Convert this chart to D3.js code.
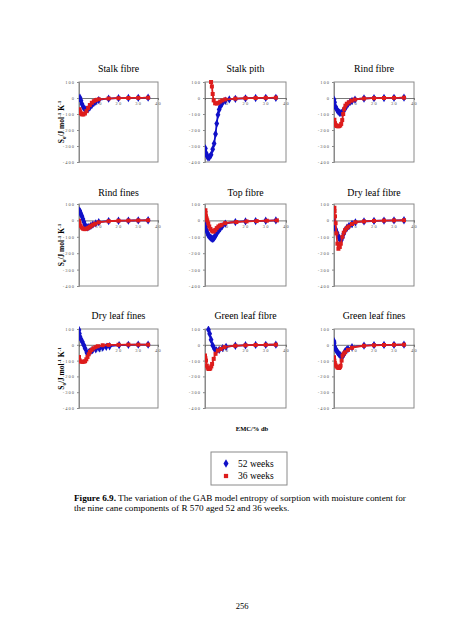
<!DOCTYPE html>
<html><head><meta charset="utf-8">
<script src="https://cdn.jsdelivr.net/npm/d3@7"></script>
<style>html,body{margin:0;padding:0;background:#fff;}svg{display:block;}</style>
</head><body>
<script>
const panelTitles = ["Stalk fibre","Stalk pith","Rind fibre","Rind fines","Top fibre","Dry leaf fibre","Dry leaf fines","Green leaf fibre","Green leaf fines"];
const seriesNames = ["52 weeks","36 weeks"];
const yTicks = [100,0,-100,-200,-300,-400];
const xTicks = [10,20,30,40];

// 52 weeks (blue) EMC and entropy per panel
const emc52 = [
 [0.5,1,1.5,2.2,3,3.8,4.6,5.5,6.5,7.5,8.5,10,15,20,25,30,35],
 [0.2,0.6,1,1.5,2.2,3,3.8,4.5,5.2,5.8,6.4,7,7.6,8.5,10,12,15,20,25,30,35],
 [0,0.3,0.8,1.4,2.1,2.8,3.5,4.2,4.8,5.5,6.2,7,8,9,10.5,15,20,25,30,35],
 [0.3,0.6,1,1.5,2,2.5,3,3.5,4.2,5,6,7,8.5,10,15,20,25,30,35],
 [0.2,0.4,0.8,1.2,1.6,2.2,2.8,3.3,3.8,4.3,4.8,5.4,6,6.8,7.6,8.5,10,15,20,25,30,35],
 [0,0.3,0.8,1.5,2.2,2.7,3.1,3.6,4.2,4.9,5.6,6.5,7.5,9,10.7,15,20,25,30,35],
 [0,0.2,0.5,1,1.7,2.4,3.1,4,4.6,5.2,6,6.9,8.5,10.3,12,13.8,15.5,20.3,25,30,35],
 [1.7,2.3,3,3.8,4.7,5.7,7,8.7,10.4,15,20,25,30,35],
 [0,0.1,0.3,0.7,1.2,1.8,2.4,3.1,3.8,4.2,4.7,5.2,5.6,6.3,7,9,15,20,25,30,35]
];
const ent52 = [
 [2,-15,-38,-57,-70,-75,-70,-58,-44,-32,-23,-13,-4,-1,0,1,2],
 [-315,-345,-362,-372,-370,-355,-320,-285,-225,-160,-105,-72,-52,-33,-17,-9,-5,-2,0,1,1],
 [-10,-27,-55,-72,-85,-92,-94,-88,-78,-65,-50,-37,-26,-18,-10,-3,-1,0,1,2],
 [60,50,38,25,8,-10,-28,-38,-43,-40,-33,-26,-18,-11,-4,-2,-1,0,1],
 [-16,-37,-58,-75,-89,-98,-105,-110,-113,-110,-100,-88,-75,-60,-48,-35,-20,-10,-6,-4,-2,0],
 [-6,-21,-54,-75,-96,-110,-120,-121,-104,-80,-60,-45,-34,-22,-12,-6,-3,-1,0,1],
 [94,72,51,35,19,-2,-23,-51,-50,-45,-40,-34,-28,-23,-18,-13,-9,-2,0,1,1],
 [96,70,32,-4,-26,-36,-32,-21,-13,-6,-3,-1,0,1],
 [23,11,-11,-24,-36,-47,-57,-66,-74,-72,-64,-52,-40,-32,-26,-15,-5,-2,-1,0,1]
];
// 36 weeks (red)
const emc36 = [
 [0.3,0.6,1,1.5,2.2,3,3.8,4.6,5.5,6.5,7.5,8.5,10,15,20,25,30,35],
 [3.0,3.4,3.8,4.3,5,5.8,6.6,7.5,8.5,10,15,20,25,30,35],
 [0.2,0.5,0.9,1.3,1.9,2.5,3.1,3.6,4.1,4.6,5.1,5.7,6.4,7.4,8.7,10.4,15,20,25,30,35],
 [0,0.3,0.8,1.4,2,2.7,3.3,4,4.7,5.5,6.3,7.2,8.2,10,15,20,25,30,35],
 [0.2,0.3,0.5,0.8,1.1,1.6,2.1,2.7,3.3,3.8,4.3,5.1,5.8,6.6,7.4,8.2,9.9,15.5,20.5,25.5,30.5,35.5],
 [0.2,0.3,0.5,0.8,1.2,1.7,2.2,2.9,3.4,4.2,4.9,5.6,6.4,7.3,9,10.7,15,20,25,30,35],
 [0,0.3,0.8,1.7,2.4,3.1,3.7,4.3,4.9,5.5,6.3,7.2,8.3,9.5,12,15,20,25,30,35],
 [0,0.2,0.5,0.9,1.3,1.7,2.2,2.6,3.1,3.5,4.3,5.2,6.4,7.8,9.6,15,20,25,30,35],
 [0,0.2,0.4,0.7,1.2,1.7,2.2,2.6,3,3.3,3.8,4.3,4.9,5.6,7,9,15,20,25,30,35]
];
const ent36 = [
 [-70,-85,-96,-102,-103,-97,-82,-62,-44,-30,-20,-13,-8,-3,-1,0,1,2],
 [100,72,25,-15,-33,-35,-30,-22,-15,-9,-4,-1,0,1,2],
 [-136,-157,-168,-175,-177,-176,-172,-162,-138,-100,-68,-48,-36,-27,-17,-10,-3,-1,0,1,2],
 [-2,-18,-33,-44,-50,-53,-53,-50,-45,-39,-32,-26,-20,-12,-5,-2,-1,0,1],
 [62,45,25,12,0,-18,-37,-52,-62,-67,-68,-58,-47,-37,-31,-27,-17,-10,-6,-4,-2,0],
 [77,56,25,-17,-79,-142,-173,-162,-142,-100,-75,-58,-46,-37,-22,-11,-6,-3,-1,0,1],
 [-77,-98,-106,-108,-107,-104,-92,-77,-60,-45,-33,-23,-15,-9,-3,-1,0,1,1,1],
 [-68,-85,-100,-132,-145,-153,-153,-149,-137,-121,-89,-57,-36,-26,-15,-6,-3,-1,0,1],
 [-79,-100,-115,-126,-136,-143,-146,-147,-140,-132,-100,-68,-55,-47,-32,-19,-6,-3,-1,0,1]
];

const W = 452, H = 640;
const colLeft = [79, 205, 334], colRight = [158, 286, 414];
const rowTop = [82, 204, 329], rowBottom = [162, 286, 408];
const titleY = [72, 196, 319];
const BLUE = "#1010c8", RED = "#dd1c1c";
const serif = "'Liberation Serif','Times New Roman',serif";

const svg = d3.select("body").append("svg").attr("width", W).attr("height", H)
  .style("background", "#fff");
const defs = svg.append("defs");

const diamond = d3.symbol().type(d3.symbolDiamond).size(20);
const square = d3.symbol().type(d3.symbolSquare).size(16);

panelTitles.forEach((title, i) => {
  const r = Math.floor(i / 3), c = i % 3;
  const x = d3.scaleLinear().domain([0, 40]).range([colLeft[c], colRight[c]]);
  const y = d3.scaleLinear().domain([-400, 100]).range([rowBottom[r], rowTop[r]]);
  const g = svg.append("g");

  g.append("text").attr("x", (colLeft[c] + colRight[c]) / 2).attr("y", titleY[r])
    .attr("text-anchor", "middle").attr("font-family", serif).attr("font-size", 9.8)
    .attr("fill", "#000").text(title);

  g.append("rect").attr("x", colLeft[c]).attr("y", rowTop[r])
    .attr("width", colRight[c] - colLeft[c]).attr("height", rowBottom[r] - rowTop[r])
    .attr("fill", "none").attr("stroke", "#8a8a8a").attr("stroke-width", 1);

  const yAxis = d3.axisLeft(y).tickValues(yTicks).tickSize(2).tickPadding(2)
    .tickFormat(d => String(d));
  const ya = g.append("g").attr("transform", `translate(${colLeft[c]},0)`).call(yAxis);
  ya.select(".domain").attr("stroke", "#8a8a8a");
  ya.selectAll(".tick line").attr("stroke", "#8a8a8a");
  ya.selectAll(".tick text").attr("font-family", serif).attr("font-size", 4.5)
    .attr("letter-spacing", 1).attr("fill", "#555");

  const xAxis = d3.axisBottom(x).tickValues(xTicks).tickSize(2).tickPadding(2)
    .tickFormat(d => String(d));
  const xa = g.append("g").attr("transform", `translate(0,${y(0)})`).call(xAxis);
  xa.select(".domain").attr("stroke", "#555").attr("stroke-width", 0.8);
  xa.selectAll(".tick line").attr("stroke", "#777");
  xa.selectAll(".tick text").attr("font-family", serif).attr("font-size", 4.5)
    .attr("letter-spacing", 1.2).attr("fill", "#555");

  const cid = "clip" + i;
  defs.append("clipPath").attr("id", cid).append("rect")
    .attr("x", colLeft[c]).attr("y", rowTop[r] - 3)
    .attr("width", colRight[c] - colLeft[c]).attr("height", rowBottom[r] - rowTop[r] + 3);

  const line = d3.line().x(d => x(d[0])).y(d => y(d[1])).curve(d3.curveCatmullRom.alpha(0.5));
  const data = g.append("g").attr("clip-path", `url(#${cid})`);
  const s1 = emc52[i].map((e, k) => [e, ent52[i][k]]);
  const s2 = emc36[i].map((e, k) => [e, ent36[i][k]]);

  data.append("path").datum(s1).attr("d", line).attr("fill", "none")
    .attr("stroke", BLUE).attr("stroke-width", 1.8);
  data.selectAll(".p52").data(s1).enter().append("path").attr("class", "p52")
    .attr("transform", d => `translate(${x(d[0])},${y(d[1])})`).attr("d", diamond).attr("fill", BLUE);

  data.append("path").datum(s2).attr("d", line).attr("fill", "none")
    .attr("stroke", RED).attr("stroke-width", 1.8);
  data.selectAll(".p36").data(s2).enter().append("path").attr("class", "p36")
    .attr("transform", d => `translate(${x(d[0])},${y(d[1])})`).attr("d", square).attr("fill", RED);

  if (c === 0) {
    const cy = (rowTop[r] + rowBottom[r]) / 2;
    const t = g.append("text").attr("transform", `translate(64,${cy}) rotate(-90)`)
      .attr("text-anchor", "middle").attr("font-family", serif).attr("font-size", 7.5)
      .attr("font-weight", "bold").attr("fill", "#000");
    t.append("tspan").text("S");
    t.append("tspan").attr("font-size", 5).attr("dy", 1.5).text("0");
    t.append("tspan").attr("dy", -1.5).text("/J mol");
    t.append("tspan").attr("font-size", 5).attr("dy", -3).text("-1");
    t.append("tspan").attr("dy", 3).text(" K");
    t.append("tspan").attr("font-size", 5).attr("dy", -3).text("-1");
  }
});

svg.append("text").attr("x", 252).attr("y", 431).attr("text-anchor", "middle")
  .attr("font-family", serif).attr("font-size", 6.5).attr("font-weight", "bold").text("EMC/% db");

const lg = svg.append("g");
lg.append("rect").attr("x", 211).attr("y", 452).attr("width", 76).attr("height", 33)
  .attr("fill", "#fff").attr("stroke", "#8a8a8a").attr("stroke-width", 1);
const legendColors = [BLUE, RED];
const legendSymbols = [d3.symbol().type(d3.symbolDiamond).size(22), d3.symbol().type(d3.symbolSquare).size(18)];
seriesNames.forEach((n, k) => {
  const yy = 463.5 + k * 12.5;
  lg.append("path").attr("transform", `translate(226,${yy})`).attr("d", legendSymbols[k]).attr("fill", legendColors[k]);
  lg.append("text").attr("x", 238).attr("y", yy + 3.3).attr("font-family", serif)
    .attr("font-size", 9.5).text(n);
});

const cap = svg.append("text").attr("x", 74).attr("y", 501).attr("font-family", serif).attr("font-size", 9.2);
cap.append("tspan").attr("font-weight", "bold").text("Figure 6.9.");
cap.append("tspan").text("  The variation of the GAB model entropy of sorption with moisture content for");
svg.append("text").attr("x", 74).attr("y", 510.5).attr("font-family", serif).attr("font-size", 9.2)
  .text("the nine cane components of R 570 aged 52 and 36 weeks.");

svg.append("text").attr("x", 242).attr("y", 609).attr("text-anchor", "middle")
  .attr("font-family", serif).attr("font-size", 8.5).text("256");
</script>
</body></html>
